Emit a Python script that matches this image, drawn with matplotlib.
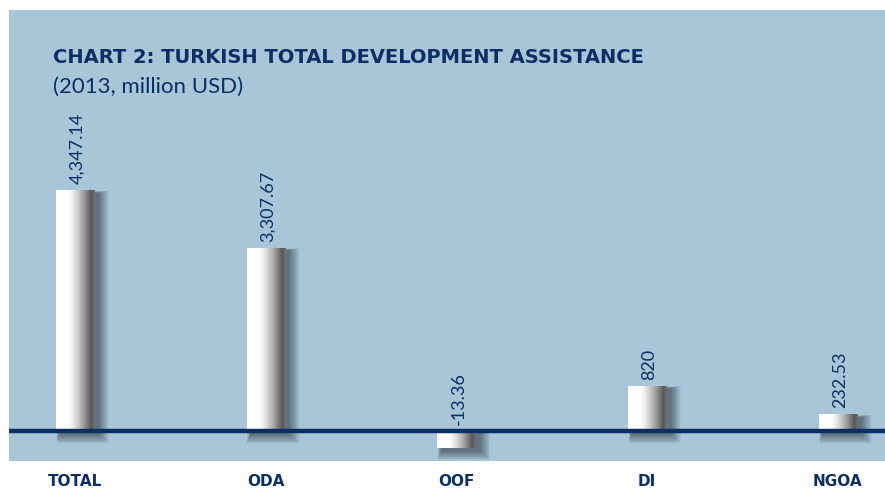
import numpy as np
import matplotlib
matplotlib.use("Agg")
import matplotlib.pyplot as plt
from matplotlib.patches import Rectangle

categories = ["TOTAL", "ODA", "OOF", "DI", "NGOA"]
values = [4347.14, 3307.67, -13.36, 820, 232.53]
value_labels = ["4,347.14", "3,307.67", "-13.36", "820", "232.53"]

navy = "#0b2f64"
panel = "#a8c6d8"

# very small values get a minimum visible height, as in the original graphic
vals = np.array(values, dtype=float)
shown = np.where(np.abs(vals) < 300, np.sign(vals) * 300, vals)

fig = plt.figure(figsize=(8.85, 4.96), dpi=100)
fig.patch.set_facecolor("white")
ax = fig.add_axes([9 / 885, 1 - 461 / 496, 876 / 885, 451 / 496])
ax.set_facecolor(panel)
for s in ax.spines.values():
    s.set_visible(False)

x = np.arange(len(categories))
width = 0.2
xlim = (-0.346, 4.247)
ylim = (-541, 7594)

# pixel sizes in data units
px_x = (xlim[1] - xlim[0]) / 876
px_y = (ylim[1] - ylim[0]) / 451

# soft shadows (stacked translucent rectangles), mostly to the right and below
for xi, h in zip(x, shown):
    y0, y1 = min(0, h), max(0, h)
    for k in range(24, 0, -1):
        ax.add_patch(Rectangle((xi - width / 2 + 4 * px_x - k * px_x * 0.15, y0 - 3 * px_y - k * px_y * 0.4),
                               width + k * px_x * 0.6, (y1 - y0) + k * px_y * 0.5,
                               facecolor="black", edgecolor="none", alpha=0.018, zorder=1))

bars = ax.bar(x, shown, width=width, color="white", edgecolor="none", zorder=2)

# horizontal white -> grey shading inside each bar
grad = np.linspace(0, 1, 256)
shade = np.clip((grad - 0.3) / 0.6, 0, 1) ** 1.4
shade = np.where(grad > 0.92, shade - (grad - 0.92) * 2.0, shade)
rgb = 1 - 0.65 * shade
img = np.dstack([rgb, rgb, rgb])
for b in bars:
    bx, by = b.get_x(), b.get_y()
    bw, bh = b.get_width(), b.get_height()
    im = ax.imshow(img, extent=(bx, bx + bw, min(by, by + bh), max(by, by + bh)),
                   aspect="auto", zorder=3, interpolation="bilinear")
    im.set_clip_path(b)

ax.axhline(0, color=navy, lw=3.2, zorder=4)

for xi, h, lab in zip(x, shown, value_labels):
    ax.text(xi + 2 * px_x, max(h, 0) + 6 * px_y, lab, rotation=90, ha="center", va="bottom",
            color=navy, fontsize=13, family="Lato", fontweight="normal", zorder=5)

ax.set_xlim(*xlim)
ax.set_ylim(*ylim)
ax.set_xticks(x)
ax.set_xticklabels(categories, fontsize=11, fontweight="heavy", color=navy)
ax.tick_params(axis="x", length=0, pad=9)
ax.set_yticks([])

fig.text(53 / 885, 1 - 63 / 496, "CHART 2: TURKISH TOTAL DEVELOPMENT ASSISTANCE",
         fontsize=14, fontweight="heavy", color=navy, ha="left", va="baseline")
fig.text(53 / 885, 1 - 93 / 496, "(2013, million USD)",
         fontsize=16, family="Lato", fontweight="normal", color=navy, ha="left", va="baseline")

fig.savefig("out.png", dpi=100, facecolor="white")
